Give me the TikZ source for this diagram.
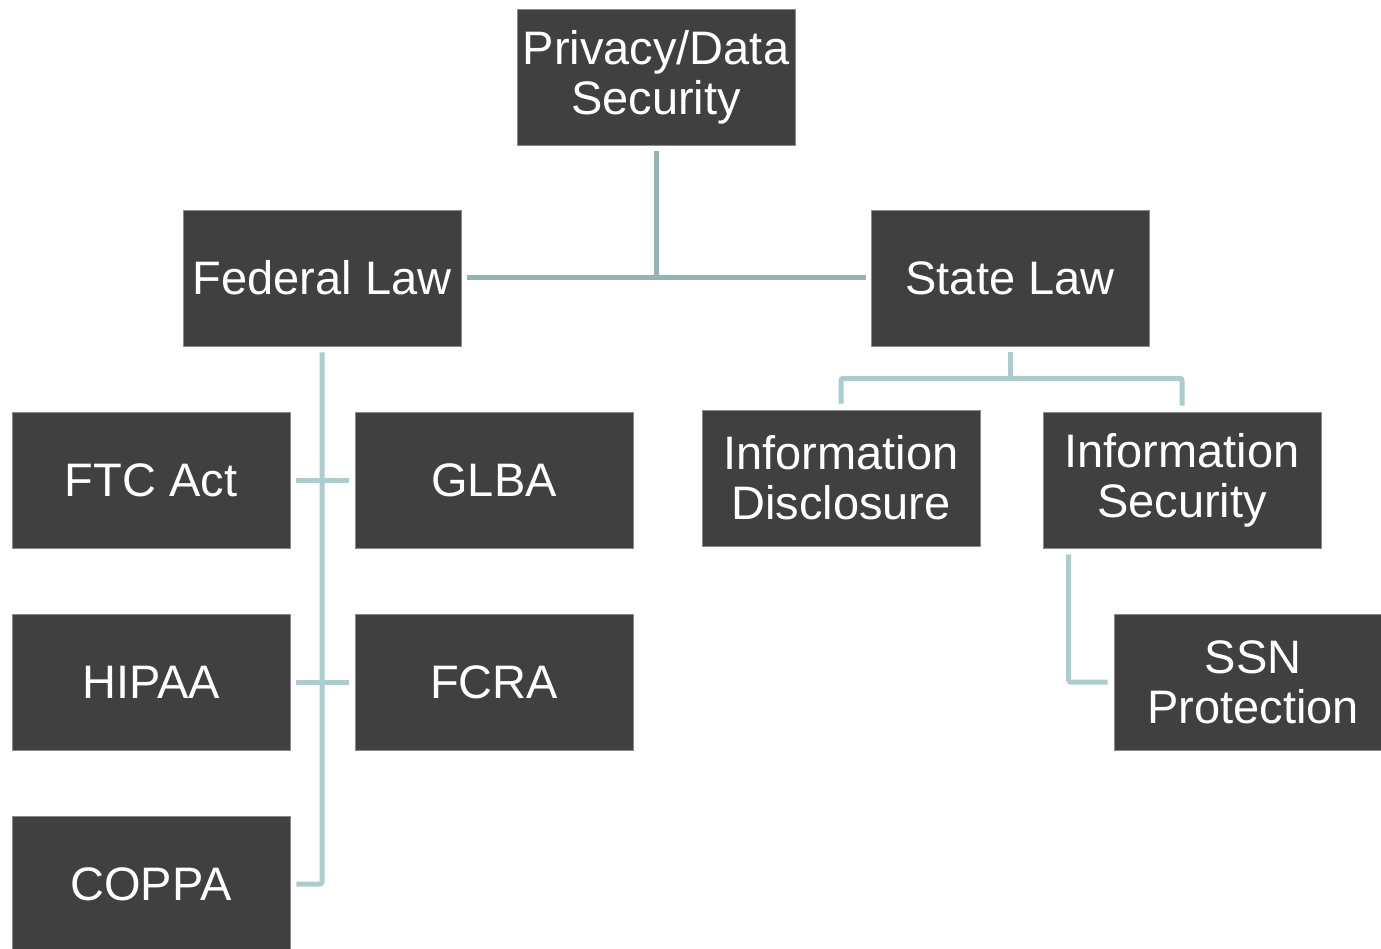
\documentclass[tikz,border=0pt]{standalone}
\usepackage{fontspec}
\setmainfont{Liberation Sans}
\definecolor{boxgray}{HTML}{404040}
\definecolor{boxedge}{HTML}{8A8A8A}
\definecolor{linetop}{HTML}{95B3B7}
\definecolor{linelow}{HTML}{A9CDD0}
\begin{document}
\begin{tikzpicture}[x=1pt,y=-1pt,
  box/.style={fill=boxgray, draw=boxedge, line width=0.8pt, minimum width=278pt, minimum height=136pt,
    inner sep=0pt, text=white, font=\fontsize{47}{50}\selectfont, align=center},
  conntop/.style={draw=linetop, line width=5pt},
  conn/.style={draw=linelow, line width=5pt, rounded corners=2pt}]
\useasboundingbox (0,0) rectangle (1381,949);
\clip (0,0) rectangle (1381,949);
\fill[white] (0,0) rectangle (1381,949);

\node[box] (priv) at (656,77) {Privacy/Data\\Security};
\node[box] (fed) at (322,278) {Federal Law};
\node[box] (state) at (1010,278) {State Law};
\node[box] (ftc) at (151,480) {FTC Act};
\node[box] (glba) at (494,480) {GLBA};
\node[box] (hipaa) at (151,682) {HIPAA};
\node[box] (fcra) at (494,682) {FCRA};
\node[box] (coppa) at (151,884) {COPPA};
\node[box] (disc) at (841,478) {Information\\Disclosure};
\node[box] (sec) at (1182,480) {Information\\Security};
\node[box] (ssn) at (1253,682) {SSN\\Protection};

% top level
\draw[conntop] ([yshift=-6pt]priv.south) -- (priv.south |- fed.east);
\draw[conntop] ([xshift=6pt]fed.east) -- ([xshift=-5pt]state.west);

% federal
\draw[conn] ([yshift=-6pt]fed.south) -- (fed.south |- coppa.east) -- ([xshift=6pt]coppa.east);
\draw[conn] ([xshift=6pt]ftc.east) -- ([xshift=-6pt]glba.west);
\draw[conn] ([xshift=6pt]hipaa.east) -- ([xshift=-6pt]fcra.west);

% state
\draw[conn] ([yshift=-6pt]state.south) -- ++(0,26) coordinate (sj);
\draw[conn] ([yshift=6pt]disc.north) -- (disc.north |- sj) -- (sj);
\draw[conn] (sj) -- (sec.north |- sj) -- ([yshift=6pt]sec.north);

% security -> SSN
\draw[conn] ([xshift=26pt,yshift=-6pt]sec.south west) -- ([xshift=26pt]sec.south west |- ssn.west) -- ([xshift=-6pt]ssn.west);
\end{tikzpicture}
\end{document}
